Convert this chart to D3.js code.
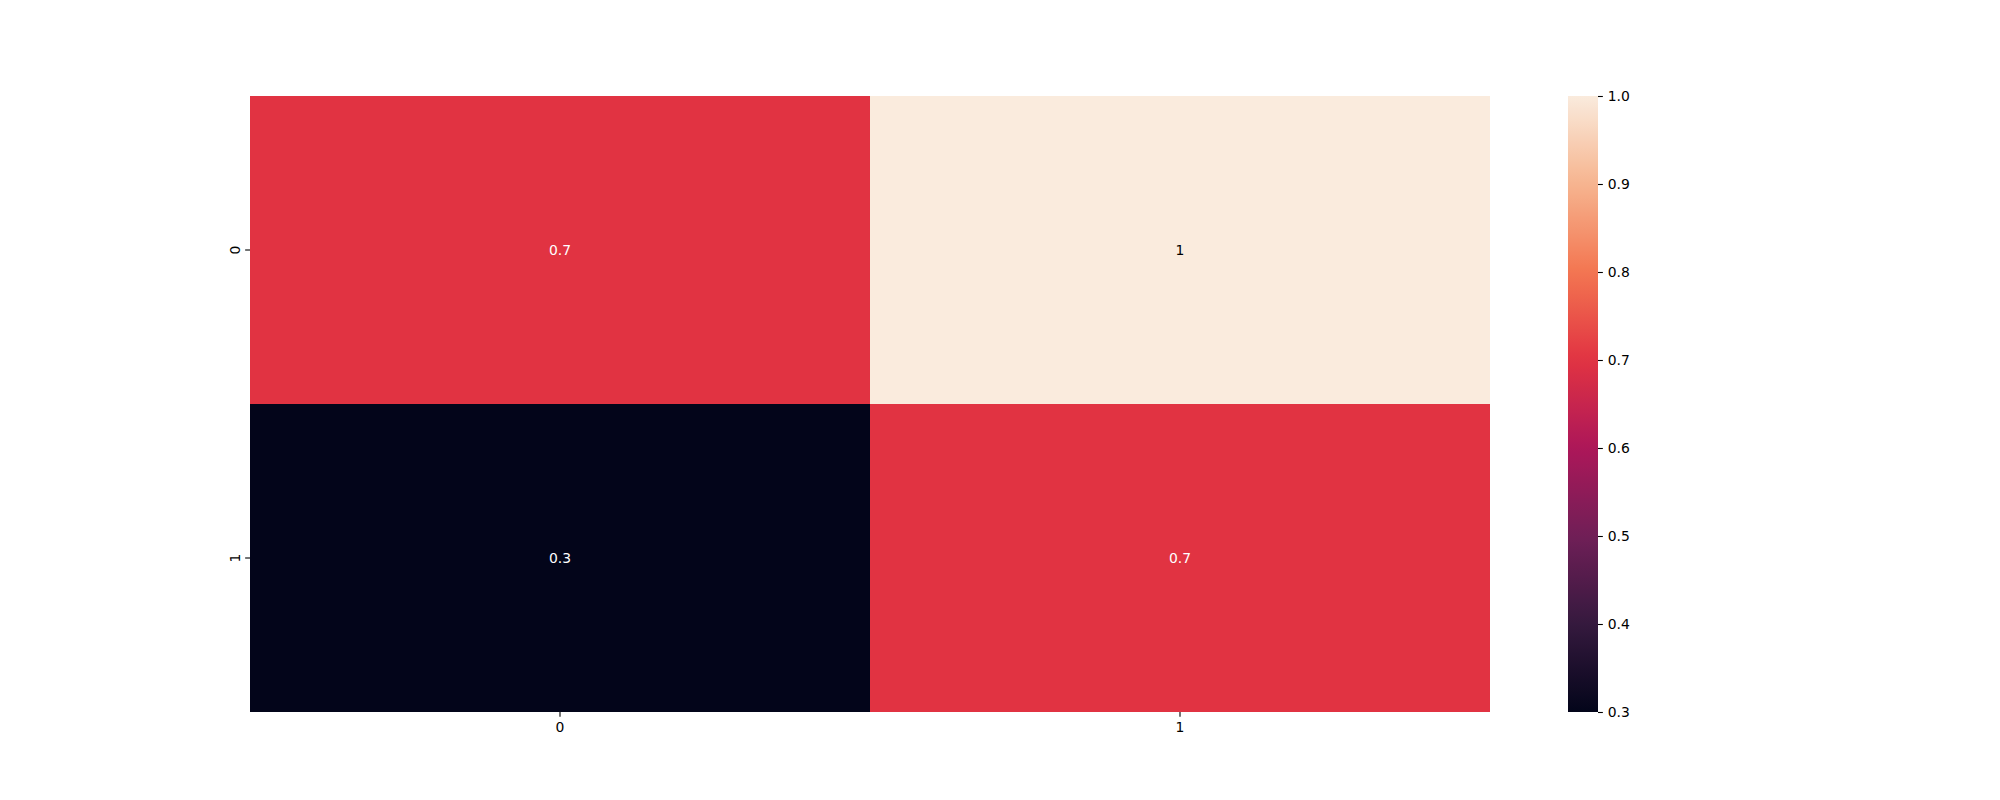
<!DOCTYPE html>
<html><head><meta charset="utf-8">
<script src="https://cdn.jsdelivr.net/npm/d3@7"></script>
<style>body{margin:0;background:#fff}svg{display:block}text{font-family:"DejaVu Sans",sans-serif}</style>
</head><body>
<script>
const rowLabels = ["0","1"];
const colLabels = ["0","1"];
const values = [[0.7, 1.0],[0.3, 0.7]];
const annotations = [["0.7","1"],["0.3","0.7"]];
const cbTicks = [0.3,0.4,0.5,0.6,0.7,0.8,0.9,1.0];
const vmin = 0.3, vmax = 1.0;
const rocketStops = ["#03051a","#35193e","#701f57","#ad1759","#e13342","#f37651","#f6b48f","#faebdd"];

const W=2000,H=800;
const svg=d3.select("body").append("svg").attr("width",W).attr("height",H);
const L=250,R=1490,T=96,B=712;
const x=d3.scaleBand().domain(colLabels).range([L,R]).padding(0);
const y=d3.scaleBand().domain(rowLabels).range([T,B]).padding(0);
const interp=d3.piecewise(d3.interpolateRgb, rocketStops);
const norm=d3.scaleLinear().domain([vmin,vmax]).range([0,1]).clamp(true);
const color=v=>interp(norm(v));

const cells=[];
rowLabels.forEach((r,i)=>colLabels.forEach((c,j)=>cells.push({r,c,v:values[i][j],a:annotations[i][j]})));
svg.selectAll("rect.cell").data(cells).join("rect").attr("class","cell")
  .attr("x",d=>x(d.c)).attr("y",d=>y(d.r)).attr("width",x.bandwidth()).attr("height",y.bandwidth())
  .attr("fill",d=>color(d.v)).attr("shape-rendering","crispEdges");
svg.selectAll("text.ann").data(cells).join("text").attr("class","ann")
  .attr("x",d=>x(d.c)+x.bandwidth()/2).attr("y",d=>y(d.r)+y.bandwidth()/2)
  .attr("text-anchor","middle").attr("dominant-baseline","central").attr("font-size","13.9px")
  .attr("fill",d=>{const c=d3.hsl(color(d.v));return d3.lab(color(d.v)).l>60?"#000":"#fff";})
  .text(d=>d.a);

const tl=4.86, fs="13.9px";
// x axis
const xa=svg.append("g").attr("transform",`translate(0,${B})`).call(d3.axisBottom(x).tickSize(tl).tickPadding(4.86));
xa.select(".domain").remove();
xa.selectAll("line").attr("stroke","#000").attr("stroke-width",1.1);
xa.selectAll("text").attr("font-size",fs).attr("fill","#000").attr("font-family","DejaVu Sans");
// y axis
const ya=svg.append("g").attr("transform",`translate(${L},0)`).call(d3.axisLeft(y).tickSize(tl).tickPadding(4.86));
ya.select(".domain").remove();
ya.selectAll("line").attr("stroke","#000").attr("stroke-width",1.1);
ya.selectAll("text").attr("font-size",fs).attr("fill","#000").attr("font-family","DejaVu Sans")
  .attr("text-anchor","middle").attr("dy",null).attr("x",null)
  .attr("transform",`translate(${-tl-4.86-5},0) rotate(-90)`).attr("dominant-baseline","central");

// colorbar
const cbL=1568,cbR=1598;
const cy=d3.scaleLinear().domain([vmin,vmax]).range([B,T]);
const defs=svg.append("defs");
const grad=defs.append("linearGradient").attr("id","cbg").attr("x1","0").attr("y1","1").attr("x2","0").attr("y2","0");
d3.range(0,1.0001,0.02).forEach(t=>grad.append("stop").attr("offset",t).attr("stop-color",interp(t)));
svg.append("rect").attr("x",cbL).attr("y",T).attr("width",cbR-cbL).attr("height",B-T).attr("fill","url(#cbg)");
const ca=svg.append("g").attr("transform",`translate(${cbR},0)`).call(d3.axisRight(cy).tickValues(cbTicks).tickFormat(d3.format(".1f")).tickSize(tl).tickPadding(4.86));
ca.select(".domain").remove();
ca.selectAll("line").attr("stroke","#000").attr("stroke-width",1.1);
ca.selectAll("text").attr("font-size",fs).attr("fill","#000").attr("font-family","DejaVu Sans");
</script>
</body></html>
